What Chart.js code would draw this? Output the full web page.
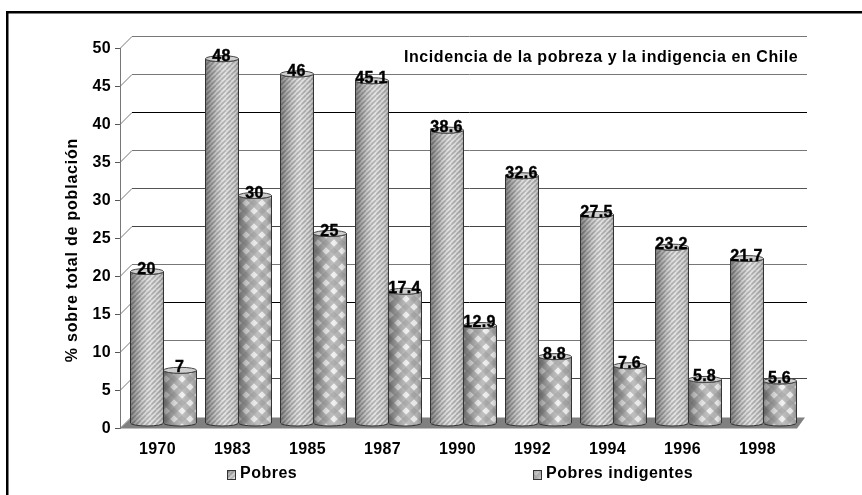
<!DOCTYPE html>
<html>
<head>
<meta charset="utf-8">
<style>
html,body{margin:0;padding:0;background:#fff;overflow:hidden}
#wrap{position:absolute;left:0;top:0;width:862px;height:495px}
</style>
<script src="https://cdn.jsdelivr.net/npm/chart.js@4"></script>
</head>
<body>
<div id="wrap"><canvas id="c" width="862" height="495"></canvas></div>
<script>
const categories = ['1970','1983','1985','1987','1990','1992','1994','1996','1998'];
const pobres = [20,48,46,45.1,38.6,32.6,27.5,23.2,21.7];
const indigentes = [7,30,25,17.4,12.9,8.8,7.6,5.8,5.6];
const seriesNames = ['Pobres','Pobres indigentes'];
const chartTitle = 'Incidencia de la pobreza y la indigencia en Chile';
const axisTitle = '% sobre total de población';
const gridColors = {5:'#444',10:'#777',15:'#000',20:'#777',25:'#444',30:'#555',35:'#777',40:'#000',45:'#777',50:'#777'};

const FONT = '"Liberation Sans", Arial, sans-serif';
const DEPTH_X = 12, DEPTH_Y = 12, BAR_DX = 6, BAR_DY = 5, RY = 3;

function hatchPattern(ctx){
  const s = 5, p = document.createElement('canvas');
  p.width = p.height = s;
  const g = p.getContext('2d');
  g.fillStyle = '#e2e2e2'; g.fillRect(0,0,s,s);
  g.strokeStyle = '#acacac'; g.lineWidth = 1.7;
  for (let i=-s;i<=s*2;i+=s){ g.beginPath(); g.moveTo(i,s); g.lineTo(i+s,0); g.stroke(); }
  return ctx.createPattern(p,'repeat');
}
function diamondPattern(ctx){
  const s = 16, p = document.createElement('canvas');
  p.width = p.height = s;
  const g = p.getContext('2d');
  g.fillStyle = '#b8b8b8'; g.fillRect(0,0,s,s);
  const d = (x,y,r,c)=>{ g.fillStyle=c; g.beginPath(); g.moveTo(x,y-r); g.lineTo(x+r,y); g.lineTo(x,y+r); g.lineTo(x-r,y); g.closePath(); g.fill(); };
  [[0,0],[16,0],[0,16],[16,16],[8,8]].forEach(q=>d(q[0],q[1],3.8,'#f0f0f0'));
  [[8,0],[8,16],[0,8],[16,8]].forEach(q=>d(q[0],q[1],3.8,'#a8a8a8'));
  return ctx.createPattern(p,'repeat');
}
function shade(ctx,x0,x1){
  const g = ctx.createLinearGradient(x0,0,x1,0);
  g.addColorStop(0,'rgba(0,0,0,0.42)');
  g.addColorStop(0.25,'rgba(0,0,0,0.18)');
  g.addColorStop(0.6,'rgba(255,255,255,0.1)');
  g.addColorStop(0.85,'rgba(0,0,0,0.04)');
  g.addColorStop(1,'rgba(0,0,0,0.2)');
  return g;
}

const ctx0 = document.getElementById('c').getContext('2d');
const patterns = [hatchPattern(ctx0), diamondPattern(ctx0)];

function spacedText(ctx,text,x,y,sp){
  ctx.letterSpacing = sp+'px';
  ctx.fillText(text,x,y);
  ctx.letterSpacing = '0px';
}

const scene = {
  id:'scene',
  beforeDraw(chart){ chart.ctx.letterSpacing='0.3px'; },
  beforeDatasetsDraw(chart){
    const {ctx,chartArea:a,scales:{y}} = chart;
    ctx.save();
    ctx.fillStyle='#000';
    ctx.fillRect(6,11,856,2.5);
    ctx.fillRect(6,11,2.5,484);
    ctx.fillStyle='#808080';
    ctx.beginPath();
    ctx.moveTo(a.left,a.bottom); ctx.lineTo(a.right+2,a.bottom);
    ctx.lineTo(a.right+DEPTH_X-2,a.bottom-DEPTH_Y+1); ctx.lineTo(a.left+DEPTH_X,a.bottom-DEPTH_Y+1);
    ctx.closePath(); ctx.fill();
    ctx.lineWidth=1;
    y.ticks.forEach(t=>{
      const py = Math.floor(y.getPixelForValue(t.value))+0.5;
      ctx.strokeStyle='#777';
      ctx.beginPath(); ctx.moveTo(a.left,py); ctx.lineTo(a.left+DEPTH_X,py-DEPTH_Y); ctx.stroke();
      if (t.value>0){
        ctx.strokeStyle=gridColors[t.value];
        ctx.beginPath(); ctx.moveTo(a.left+DEPTH_X,py-DEPTH_Y); ctx.lineTo(a.right+DEPTH_X,py-DEPTH_Y); ctx.stroke();
      }
    });
    ctx.restore();
    ctx.save();
    ctx.translate(BAR_DX,-BAR_DY);
  },
  afterDatasetDraw(chart,args){
    const {ctx} = chart, pat = patterns[args.index];
    chart.getDatasetMeta(args.index).data.forEach(el=>{
      const {x,y,base,width} = el.getProps(['x','y','base','width'],true);
      const l=x-width/2, r=x+width/2, rx=width/2;
      const body=()=>{
        ctx.beginPath();
        ctx.moveTo(l,y); ctx.lineTo(l,base);
        ctx.ellipse(x,base,rx,RY,0,Math.PI,0,true);
        ctx.lineTo(r,y);
        ctx.ellipse(x,y,rx,RY,0,0,Math.PI,false);
        ctx.closePath();
      };
      body(); ctx.fillStyle=pat; ctx.fill();
      body(); ctx.fillStyle=shade(ctx,l,r); ctx.fill();
      body(); ctx.strokeStyle='#333'; ctx.lineWidth=1; ctx.stroke();
      ctx.beginPath(); ctx.ellipse(x,y,rx,RY,0,0,Math.PI*2);
      ctx.fillStyle='#cfcfcf'; ctx.fill();
      ctx.strokeStyle='#444'; ctx.stroke();
    });
  },
  afterDatasetsDraw(chart){
    const {ctx} = chart;
    ctx.restore();
    ctx.save();
    ctx.fillStyle='#000';
    ctx.strokeStyle='#000';
    ctx.font='bold 16px '+FONT;
    ctx.textAlign='center'; ctx.textBaseline='alphabetic';
    chart.data.datasets.forEach((ds,i)=>{
      chart.getDatasetMeta(i).data.forEach((el,j)=>{
        const tx=el.x+BAR_DX-0.5, ty=el.y-BAR_DY+2;
        ctx.lineWidth=0.4;
        ctx.letterSpacing='0.3px';
        ctx.fillText(String(ds.data[j]),tx,ty);
        ctx.strokeText(String(ds.data[j]),tx,ty);
        ctx.letterSpacing='0px';
      });
    });
    ctx.font='bold 16px '+FONT;
    ctx.textAlign='left'; ctx.textBaseline='middle';
    spacedText(ctx,chartTitle,404,57.5,0.57);
    ctx.save();
    ctx.translate(73,250); ctx.rotate(-Math.PI/2);
    ctx.textAlign='center'; ctx.font='bold 16px '+FONT;
    spacedText(ctx,axisTitle,0,0,0.8);
    ctx.restore();
    const items=[[227,240],[533,546]];
    ctx.font='bold 16px '+FONT;
    items.forEach((it,i)=>{
      ctx.fillStyle=patterns[i]; ctx.fillRect(it[0],470,8,9);
      const g=ctx.createLinearGradient(it[0],470,it[0]+8,479);
      g.addColorStop(0,'rgba(0,0,0,0.35)'); g.addColorStop(1,'rgba(255,255,255,0.3)');
      ctx.fillStyle=g; ctx.fillRect(it[0],470,8,9);
      ctx.strokeStyle='#333'; ctx.lineWidth=1; ctx.strokeRect(it[0]+.5,470.5,8,9);
      ctx.fillStyle='#000'; spacedText(ctx,seriesNames[i],it[1],474,0.5);
    });
    ctx.restore();
  }
};

new Chart(ctx0,{
  type:'bar',
  data:{labels:categories,datasets:[
    {label:seriesNames[0],data:pobres,backgroundColor:patterns[0],clip:false,barPercentage:1,categoryPercentage:0.88},
    {label:seriesNames[1],data:indigentes,backgroundColor:patterns[1],clip:false,barPercentage:1,categoryPercentage:0.88}
  ]},
  plugins:[scene],
  options:{
    responsive:false,animation:false,
    layout:{padding:{left:0,right:67,top:48.5,bottom:0}},
    plugins:{legend:{display:false},title:{display:false},tooltip:{enabled:false}},
    scales:{
      x:{
        afterFit(s){s.height=66.5;},
        grid:{display:false},
        border:{display:false},
        ticks:{color:'#000',padding:3,maxRotation:0,font:{family:FONT,size:16,weight:'bold'}}
      },
      y:{
        min:0,max:50,
        afterFit(s){s.width=120;},
        grid:{drawOnChartArea:false,drawTicks:true,tickLength:5,color:'#555'},
        border:{display:true,color:'#777'},
        ticks:{stepSize:5,color:'#000',padding:4,font:{family:FONT,size:16,weight:'bold'}}
      }
    }
  }
});
</script>
</body>
</html>
